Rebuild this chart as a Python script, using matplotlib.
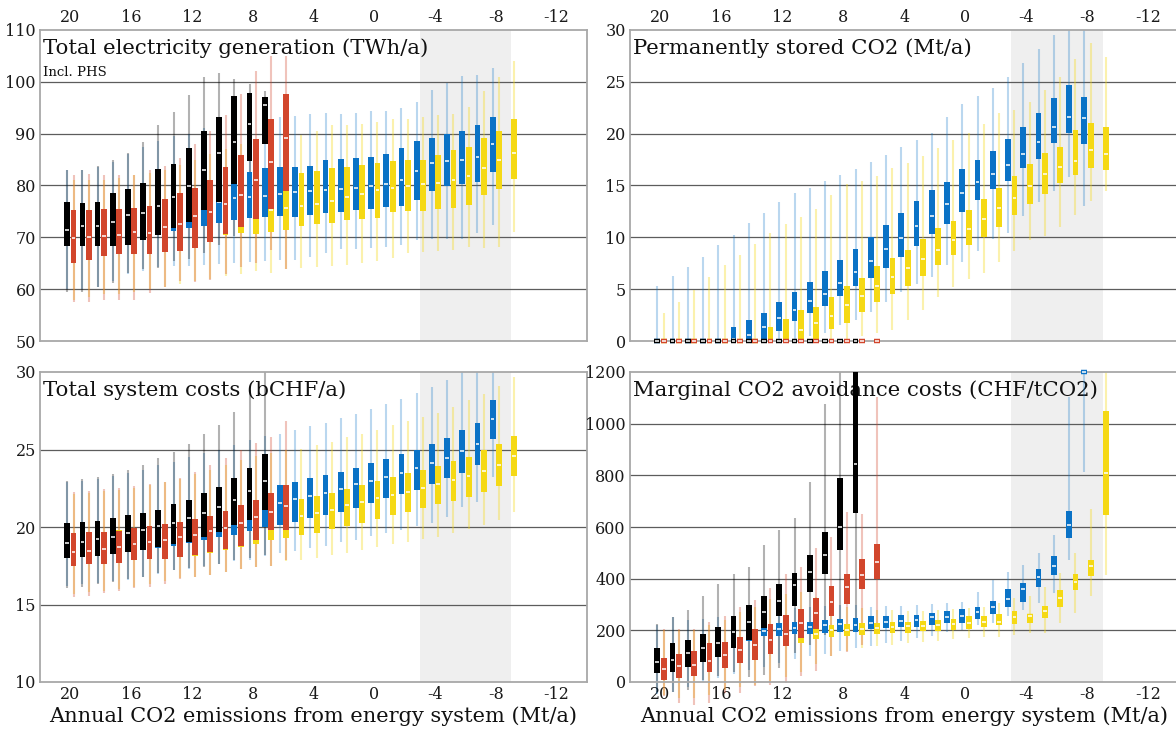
import matplotlib
matplotlib.use('Agg')
import matplotlib.pyplot as plt
from matplotlib.patches import Rectangle

plt.rcParams['font.family'] = 'DejaVu Serif'
plt.rcParams['axes.unicode_minus'] = False

# emission targets (Mt/a) covered by each scenario family
x_black = list(range(20, 6, -1))     # 20 .. 7
x_red = list(range(20, 5, -1))       # 20 .. 6
x_blue = list(range(20, -9, -1))     # 20 .. -8
x_yellow = list(range(20, -10, -1))  # 20 .. -9

# box stats per target: (whisker low, q1, median, q3, whisker high)
elec_black = [
    (59.5, 68.3, 71.5, 76.8, 83.0), (59.5, 68.3, 72.2, 76.6, 83.0),
    (60.4, 68.4, 72.2, 76.9, 83.7), (61.2, 68.4, 72.9, 78.6, 84.9),
    (63.2, 68.6, 74.4, 79.3, 86.3), (63.9, 69.4, 74.7, 80.5, 88.3),
    (64.1, 70.5, 76.0, 83.1, 91.6), (65.4, 71.8, 77.7, 84.2, 94.1),
    (65.9, 73.0, 79.9, 87.2, 97.4), (67.0, 75.3, 82.9, 90.6, 101.0),
    (68.6, 76.9, 86.3, 93.3, 101.7), (70.2, 80.2, 88.3, 97.2, 100.6),
    (75.5, 84.7, 91.8, 97.9, 99.5), (88.0, 88.0, 95.5, 97.0, 98.2),
]
elec_red = [
    (57.5, 65.1, 69.9, 75.2, 82.0), (57.6, 65.7, 70.1, 75.3, 82.2),
    (57.9, 66.4, 70.2, 75.5, 82.0), (57.9, 66.8, 70.5, 75.5, 82.0),
    (57.9, 66.8, 71.0, 75.7, 82.0), (59.3, 66.8, 70.9, 76.1, 83.0),
    (60.4, 67.2, 72.0, 77.3, 83.8), (61.5, 67.4, 72.6, 78.5, 85.4),
    (61.3, 68.0, 74.1, 79.6, 88.0), (61.8, 69.1, 74.9, 81.1, 90.5),
    (62.9, 70.7, 76.5, 83.5, 93.6), (64.2, 71.9, 78.2, 85.8, 97.7),
    (65.0, 73.6, 81.0, 88.9, 102.0), (67.5, 75.4, 84.6, 92.9, 105.0),
    (63.8, 79.0, 89.1, 97.7, 105.0),
]
elec_blue = [
    (60.0, 68.5, 71.5, 76.0, 83.0), (60.0, 68.6, 71.8, 76.0, 83.0),
    (60.5, 68.8, 72.0, 76.2, 83.5), (61.5, 69.0, 72.3, 76.8, 84.5),
    (63.0, 69.4, 72.8, 77.3, 86.0), (63.5, 69.8, 73.3, 77.8, 87.5),
    (64.3, 70.5, 74.0, 78.4, 88.5), (64.4, 71.3, 74.8, 79.0, 89.5),
    (64.5, 71.8, 75.5, 79.6, 90.0), (64.6, 72.2, 76.2, 80.5, 91.0),
    (64.8, 72.8, 76.8, 81.2, 91.5), (65.0, 73.4, 77.5, 81.8, 92.0),
    (65.3, 73.8, 77.8, 82.6, 92.5), (65.5, 73.9, 78.0, 83.4, 93.0),
    (65.6, 74.2, 78.4, 83.6, 93.2), (65.6, 74.0, 78.8, 83.6, 93.5),
    (66.3, 74.3, 79.0, 83.8, 93.7), (67.0, 74.7, 79.2, 85.0, 94.0),
    (67.7, 74.9, 79.3, 85.2, 93.8), (67.8, 75.2, 79.6, 85.4, 94.0),
    (68.0, 75.5, 79.9, 85.5, 94.3), (68.2, 75.9, 80.2, 86.0, 94.4),
    (68.5, 76.1, 81.1, 87.2, 94.9), (69.4, 77.2, 82.8, 88.5, 96.2),
    (69.6, 78.9, 84.3, 89.1, 98.4), (69.6, 80.0, 84.8, 90.0, 99.7),
    (69.6, 80.2, 84.9, 90.5, 101.1), (70.9, 80.7, 85.5, 91.7, 101.3),
    (72.4, 82.7, 88.1, 93.3, 102.6),
]
elec_yellow = [
    (58.0, 65.5, 69.8, 74.5, 81.0), (58.5, 66.0, 70.0, 74.6, 81.0),
    (59.0, 66.6, 70.2, 74.8, 81.0), (59.0, 67.0, 70.4, 75.0, 81.5),
    (59.5, 67.2, 70.8, 75.2, 82.0), (60.0, 67.5, 71.0, 75.5, 82.5),
    (60.5, 68.2, 71.5, 76.0, 83.0), (61.0, 68.8, 72.0, 76.6, 84.0),
    (61.5, 69.5, 72.6, 77.2, 85.0), (62.0, 70.0, 73.2, 77.8, 86.0),
    (62.5, 70.4, 73.8, 78.5, 87.0), (63.0, 70.8, 74.3, 79.5, 88.0),
    (63.5, 70.7, 74.8, 80.5, 89.0), (63.2, 71.1, 75.3, 81.5, 88.5),
    (63.8, 71.4, 75.7, 82.2, 89.5), (64.0, 72.2, 76.1, 82.4, 89.8),
    (64.2, 72.6, 76.4, 82.8, 90.6), (64.5, 72.8, 77.0, 83.4, 91.7),
    (64.7, 73.3, 77.8, 83.5, 91.7), (65.0, 73.6, 78.4, 84.0, 91.8),
    (65.5, 73.8, 79.1, 84.3, 92.3), (66.1, 74.8, 79.6, 84.7, 92.8),
    (67.0, 75.1, 79.9, 84.9, 92.8), (67.2, 75.1, 80.3, 85.0, 93.2),
    (67.4, 75.5, 80.5, 85.8, 93.6), (67.5, 75.7, 81.0, 86.8, 93.8),
    (68.2, 76.2, 81.9, 87.4, 95.2), (67.9, 78.1, 83.4, 89.1, 98.3),
    (68.2, 79.3, 85.0, 90.5, 100.9), (71.0, 81.2, 86.3, 92.8, 104.0),
]

co2_black = [(0, 0, 0, 0, 0)] * 14
co2_red = [(0, 0, 0, 0, 0)] * 15
co2_blue = [
    (0, 0, 0, 0, 5.27), (0, 0, 0, 0, 6.3), (0, 0, 0, 0, 7.14),
    (0, 0, 0, 0, 8.1), (0, 0, 0, 0, 9.3), (0, 0, 0.2, 1.35, 10.26),
    (0, 0, 0.6, 2.05, 11.4), (0, 0, 1.35, 2.73, 12.36),
    (0, 1.0, 2.2, 3.8, 13.42), (0.2, 1.9, 2.95, 4.7, 14.3),
    (0.5, 2.73, 3.9, 5.66, 14.8), (0.8, 3.37, 4.57, 6.72, 15.42),
    (1.5, 4.37, 5.6, 7.85, 16.0), (2.0, 5.27, 6.63, 8.88, 16.57),
    (2.8, 6.1, 7.75, 10.0, 17.22), (3.8, 7.08, 8.88, 11.17, 17.96),
    (4.7, 8.11, 9.94, 12.36, 18.67), (5.5, 9.14, 11.1, 13.48, 19.38),
    (6.2, 10.3, 12.1, 14.55, 20.08), (7.3, 11.33, 13.23, 15.35, 21.56),
    (7.6, 12.42, 14.3, 16.6, 22.85), (8.7, 13.6, 15.35, 17.5, 23.6),
    (9.8, 14.7, 16.15, 18.35, 24.37), (10.4, 15.4, 16.93, 19.44, 25.5),
    (12.1, 16.64, 18.0, 20.66, 26.78), (13.4, 17.6, 19.18, 21.95, 28.16),
    (14.5, 19.12, 20.63, 23.43, 29.5), (15.8, 20.08, 21.6, 24.69, 30.0),
    (13.0, 19.0, 21.5, 23.5, 30.0),
]
co2_yellow = [
    (0, 0, 0, 0, 2.7), (0, 0, 0, 0, 3.76), (0, 0, 0, 0, 4.95),
    (0, 0, 0, 0, 6.17), (0, 0, 0, 0, 7.37), (0, 0, 0, 0, 8.3),
    (0, 0, 0, 0, 9.4), (0, 0, 0.05, 1.35, 10.46), (0, 0, 0.1, 2.15, 11.33),
    (0, 0, 1.05, 2.95, 11.97), (0, 0, 1.73, 3.28, 12.7),
    (0, 1.18, 2.41, 4.24, 14.06), (0.2, 1.76, 3.44, 5.27, 15.13),
    (0.5, 2.8, 4.34, 6.1, 15.42), (0.8, 3.76, 5.27, 7.2, 15.93),
    (1.1, 4.57, 6.17, 8.0, 16.64), (2.0, 5.3, 7.04, 8.8, 17.19),
    (3.0, 6.24, 7.95, 9.8, 17.83), (4.2, 7.3, 8.82, 10.9, 18.64),
    (5.2, 8.33, 9.78, 11.58, 19.38), (6.0, 9.23, 10.8, 12.6, 20.02),
    (6.6, 10.04, 11.78, 13.74, 20.92), (7.6, 11.0, 12.87, 14.77, 21.95),
    (8.7, 12.13, 13.77, 15.9, 22.27), (9.7, 13.2, 14.93, 17.06, 23.08),
    (10.1, 14.22, 16.1, 18.15, 24.2), (11.0, 15.25, 16.74, 18.67, 25.43),
    (12.2, 16.0, 17.35, 20.34, 27.17), (13.5, 16.64, 18.41, 21.05, 28.7),
    (14.5, 16.48, 18.02, 20.66, 27.4),
]

cost_black = [
    (16.05, 17.98, 18.95, 20.24, 22.96), (16.16, 18.09, 19.06, 20.34, 23.07),
    (16.31, 18.13, 19.20, 20.39, 23.24), (16.48, 18.24, 19.38, 20.56, 23.39),
    (16.63, 18.37, 19.64, 20.75, 23.67), (16.80, 18.52, 19.81, 20.88, 23.99),
    (17.02, 18.69, 20.06, 21.10, 24.42), (17.23, 18.88, 20.24, 21.46, 24.85),
    (17.34, 19.06, 20.56, 21.74, 25.34), (17.45, 19.38, 20.88, 22.21, 25.97),
    (17.62, 19.66, 21.31, 22.60, 26.57), (17.88, 20.13, 21.74, 23.13, 27.42),
    (17.98, 20.45, 22.32, 23.78, 28.82), (18.20, 21.09, 22.98, 24.74, 30.0),
]
cost_red = [
    (15.51, 17.51, 18.41, 19.64, 22.27), (15.58, 17.60, 18.48, 19.68, 22.34),
    (15.73, 17.62, 18.56, 19.68, 22.42), (15.90, 17.70, 18.69, 19.74, 22.53),
    (16.05, 17.88, 18.88, 19.91, 22.64), (16.16, 17.94, 19.06, 20.06, 22.77),
    (16.31, 17.92, 19.16, 20.19, 22.92), (16.63, 18.05, 19.33, 20.34, 23.13),
    (16.76, 18.20, 19.48, 20.52, 23.56), (16.91, 18.39, 19.72, 20.73, 23.99),
    (17.12, 18.60, 19.91, 21.05, 24.42), (17.27, 18.80, 20.25, 21.42, 24.96),
    (17.45, 19.17, 20.62, 21.76, 25.43), (17.49, 19.80, 20.99, 22.22, 25.82),
    (17.88, 19.82, 21.37, 22.68, 26.82),
]
cost_blue = [
    (16.2, 18.1, 19.0, 20.0, 22.9), (16.3, 18.2, 19.1, 20.1, 23.0),
    (16.4, 18.3, 19.2, 20.2, 23.1), (16.5, 18.4, 19.4, 20.4, 23.3),
    (16.6, 18.5, 19.6, 20.6, 23.5), (16.8, 18.6, 19.8, 20.8, 23.7),
    (17.0, 18.65, 20.0, 21.0, 24.0), (17.2, 18.8, 20.2, 21.3, 24.2),
    (17.3, 18.95, 20.3, 21.5, 24.5), (17.5, 19.17, 20.5, 21.7, 24.8),
    (17.6, 19.34, 20.8, 21.9, 25.0), (17.8, 19.5, 21.0, 22.1, 25.3),
    (17.9, 19.77, 21.2, 22.3, 25.6), (18.1, 20.0, 21.4, 22.5, 25.9),
    (18.3, 20.13, 21.52, 22.7, 25.99), (18.48, 20.34, 21.78, 22.88, 26.29),
    (18.63, 20.56, 22.02, 23.13, 26.52), (18.8, 20.77, 22.21, 23.35, 26.74),
    (19.01, 20.99, 22.45, 23.56, 27.04), (19.16, 21.2, 22.77, 23.82, 27.32),
    (19.42, 21.52, 22.98, 24.1, 27.6), (19.59, 21.85, 23.24, 24.38, 27.92),
    (19.81, 22.12, 23.5, 24.7, 28.28), (20.06, 22.38, 23.78, 25.0, 28.65),
    (20.28, 22.77, 24.1, 25.34, 29.03), (20.62, 23.13, 24.48, 25.77, 29.5),
    (21.31, 23.5, 24.89, 26.24, 30.0), (21.63, 23.99, 25.34, 26.74, 30.0),
    (23.24, 25.67, 27.0, 28.22, 30.0),
]
cost_yellow = [
    (15.7, 17.6, 18.5, 19.5, 22.1), (15.8, 17.7, 18.6, 19.6, 22.2),
    (15.9, 17.8, 18.7, 19.7, 22.3), (16.0, 17.9, 18.8, 19.8, 22.4),
    (16.1, 18.0, 18.9, 19.9, 22.5), (16.3, 18.05, 19.1, 20.0, 22.7),
    (16.5, 18.0, 19.2, 20.1, 22.9), (16.7, 18.1, 19.4, 20.3, 23.1),
    (16.8, 18.1, 19.5, 20.5, 23.4), (16.9, 18.3, 19.7, 20.7, 23.7),
    (17.1, 18.5, 19.9, 20.9, 24.0), (17.3, 18.7, 20.1, 21.1, 24.3),
    (17.4, 18.9, 20.3, 21.3, 24.6), (17.5, 19.15, 20.5, 21.5, 24.8),
    (17.8, 19.27, 20.6, 21.7, 25.0), (17.88, 19.49, 20.71, 21.78, 25.06),
    (17.98, 19.64, 20.92, 22.0, 25.28), (18.2, 19.85, 21.09, 22.21, 25.49),
    (18.35, 20.09, 21.42, 22.45, 25.82), (18.52, 20.28, 21.59, 22.7, 26.03),
    (18.69, 20.52, 21.85, 22.96, 26.29), (18.91, 20.77, 22.06, 23.24, 26.57),
    (19.06, 20.99, 22.27, 23.46, 26.82), (19.2, 21.2, 22.49, 23.67, 27.1),
    (19.38, 21.48, 22.77, 23.95, 27.36), (19.64, 21.7, 23.03, 24.25, 27.75),
    (19.85, 21.95, 23.28, 24.53, 28.18), (20.13, 22.27, 23.61, 24.96, 28.61),
    (20.45, 22.64, 24.03, 25.34, 29.08), (20.99, 23.3, 24.59, 25.86, 29.68),
]

mac_black = [
    (-40, 34, 79, 130, 223), (-40, 40, 85, 152, 253), (-30, 57, 111, 161, 279),
    (9, 76, 130, 186, 333), (22, 95, 152, 214, 379), (37, 133, 195, 257, 417),
    (19, 163, 231, 298, 444), (28, 208, 270, 334, 530), (54, 257, 313, 379, 588),
    (112, 295, 374, 423, 633), (144, 350, 427, 490, 773),
    (183, 417, 490, 582, 1077), (202, 511, 599, 788, 1200),
    (234, 656, 842, 1200, 1200),
]
mac_red = [
    (-55, 9, 50, 94, 204), (-81, 14, 63, 107, 205), (-88, 23, 66, 120, 205),
    (-81, 37, 83, 150, 233), (-42, 54, 104, 154, 257), (-42, 72, 123, 173, 292),
    (-17, 85, 143, 204, 317), (-10, 110, 163, 224, 362), (-4, 141, 186, 258, 418),
    (22, 169, 227, 281, 446), (41, 204, 266, 324, 517), (99, 257, 308, 373, 562),
    (118, 301, 369, 418, 660), (144, 360, 413, 475, 652),
    (202, 399, 465, 534, 1103),
]
mac_blue = [
    (-45, 60, 85, 120, 221), (-40, 70, 100, 135, 253), (-20, 85, 115, 150, 240),
    (0, 100, 130, 170, 243), (15, 115, 150, 190, 253), (30, 135, 170, 205, 251),
    (45, 160, 190, 220, 270), (60, 178, 197, 225, 275), (75, 178, 204, 227, 280),
    (90, 184, 208, 233, 285), (100, 186, 214, 233, 290), (110, 188, 220, 240, 295),
    (120, 192, 224, 244, 298), (130, 195, 220, 249, 300), (140, 206, 228, 254, 292),
    (150, 208, 233, 256, 295), (160, 212, 236, 260, 296), (170, 212, 241, 260, 299),
    (178, 221, 250, 269, 302), (193, 228, 252, 273, 305), (202, 230, 256, 283, 311),
    (219, 245, 270, 292, 350), (230, 263, 292, 315, 395), (254, 290, 323, 359, 425),
    (279, 311, 359, 382, 453), (305, 369, 405, 438, 498), (344, 414, 449, 488, 569),
    (472, 556, 606, 663, 1103), (813, 1200, 1200, 1200, 1200),
]
mac_yellow = [
    (-50, 20, 55, 90, 200), (-60, 25, 65, 100, 200), (-60, 35, 70, 110, 200),
    (-50, 45, 85, 140, 220), (-30, 60, 105, 150, 240), (-20, 75, 120, 165, 270),
    (-10, 90, 140, 190, 290), (0, 115, 155, 200, 320), (20, 140, 170, 200, 340),
    (40, 152, 178, 200, 350), (70, 166, 186, 204, 330), (100, 174, 200, 221, 300),
    (120, 179, 202, 225, 290), (130, 183, 205, 228, 285), (140, 187, 208, 230, 280),
    (145, 189, 212, 234, 278), (150, 189, 215, 234, 276), (155, 196, 217, 238, 275),
    (160, 199, 221, 241, 280), (165, 202, 225, 243, 283), (170, 205, 230, 254, 286),
    (174, 211, 234, 256, 292), (176, 219, 234, 264, 305), (183, 225, 250, 273, 324),
    (189, 228, 254, 263, 331), (189, 246, 273, 296, 367), (228, 292, 324, 357, 421),
    (266, 357, 389, 418, 498), (331, 412, 449, 472, 668), (414, 646, 810, 1049, 1200),
]

BLACK = '#000000'
RED = '#D2462C'
BLUE = '#0A72C6'
YELLOW = '#F5D915'

BOX_W = 0.38
MED_W = 0.24
SHIFT = 0.21


def draw_series(ax, xs, stats, color, shift, alpha, z):
    for x, (lo, q1, med, q3, hi) in zip(xs, stats):
        xc = x + shift
        # whisker behind every box
        ax.plot([xc, xc], [lo, hi], color=color, alpha=alpha, lw=1.5,
                solid_capstyle='butt', zorder=2, clip_on=False)
        ax.add_patch(Rectangle((xc - BOX_W / 2, q1), BOX_W, q3 - q1,
                               facecolor=color, edgecolor='none', zorder=z,
                               clip_on=False))
        # a short band keeps empty boxes visible around the median dash
        ax.plot([xc - BOX_W / 2, xc + BOX_W / 2], [med, med], color=color,
                lw=3.2, solid_capstyle='butt', zorder=z, clip_on=False)
        ax.plot([xc - MED_W / 2, xc + MED_W / 2], [med, med], color='white',
                lw=1.1, solid_capstyle='butt', zorder=z + 0.1, clip_on=False)


W, H = 1176, 731
fig = plt.figure(figsize=(W / 100, H / 100), dpi=100)


def px_axes(left, top, right, bottom):
    return fig.add_axes([left / W, 1 - bottom / H, (right - left) / W, (bottom - top) / H])


ax_elec = px_axes(40, 30, 587, 341)
ax_co2 = px_axes(630, 30, 1179, 341)
ax_cost = px_axes(40, 372, 587, 682)
ax_mac = px_axes(630, 372, 1179, 682)

panels = [
    (ax_elec, 'Total electricity generation (TWh/a)', (50, 110), 10,
     elec_black, elec_red, elec_blue, elec_yellow),
    (ax_co2, 'Permanently stored CO2 (Mt/a)', (0, 30), 5,
     co2_black, co2_red, co2_blue, co2_yellow),
    (ax_cost, 'Total system costs (bCHF/a)', (10, 30), 5,
     cost_black, cost_red, cost_blue, cost_yellow),
    (ax_mac, 'Marginal CO2 avoidance costs (CHF/tCO2)', (0, 1200), 200,
     mac_black, mac_red, mac_blue, mac_yellow),
]

for ax, title, (ymin, ymax), step, s_black, s_red, s_blue, s_yellow in panels:
    ax.set_xlim(22, -14)
    ax.set_ylim(ymin, ymax)
    ax.set_yticks(range(ymin, ymax + 1, step))
    ax.set_xticks(range(20, -13, -4))
    ax.axvspan(-3, -9, color='#EFEFEF', lw=0, zorder=0.2)
    for yv in range(ymin + step, ymax, step):
        ax.axhline(yv, color='#5C5C5C', lw=0.9, zorder=0.5)
    for sp in ax.spines.values():
        sp.set_color('#A8A8A8')
        sp.set_linewidth(1.3)
    ax.tick_params(length=0, labelsize=11.5, colors='#1A1A1A', pad=3)
    ax.text(0.006, 0.972, title, transform=ax.transAxes, fontsize=15.3,
            va='top', ha='left', color='#111111', zorder=1.5)

    draw_series(ax, x_blue, s_blue, BLUE, SHIFT, 0.28, 3)
    draw_series(ax, x_yellow, s_yellow, YELLOW, -SHIFT, 0.35, 3)
    draw_series(ax, x_black, s_black, BLACK, SHIFT, 0.3, 4)
    draw_series(ax, x_red, s_red, RED, -SHIFT, 0.32, 4)

for ax in (ax_elec, ax_co2):
    ax.tick_params(axis='x', labeltop=True, labelbottom=False)
for ax in (ax_cost, ax_mac):
    ax.set_xlabel('Annual CO2 emissions from energy system (Mt/a)',
                  fontsize=15, color='#111111', labelpad=2)

ax_elec.text(0.006, 0.862, 'Incl. PHS', transform=ax_elec.transAxes,
             fontsize=9.5, va='center', ha='left', color='#111111')

fig.savefig('out.png', dpi=100)
